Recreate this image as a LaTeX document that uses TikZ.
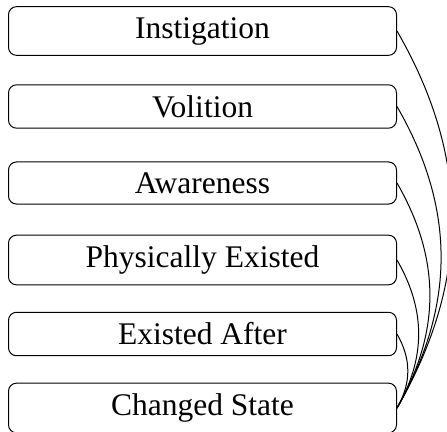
\documentclass[tikz,border=0pt]{standalone}
\usepackage{fontspec}
\setmainfont{Liberation Serif}
\begin{document}
\begin{tikzpicture}[x=1pt,y=1pt,
  box/.style={draw, line width=1pt, rounded corners=8pt, minimum width=388pt,
    inner xsep=4pt, inner ysep=10.5pt, font=\fontsize{31.5}{36}\selectfont},
  link/.style={line width=1pt, bend left=30}]
\useasboundingbox (0,0) rectangle (447,-431);
\node[box] (ins) at (202.5,-31) {Instigation};
\node[box] (vol) at (202.5,-106.5) {Volition};
\node[box] (awa) at (202.5,-183) {Awareness};
\node[box] (phy) at (202.5,-260) {Physically Existed};
\node[box] (exa) at (202.5,-334) {Existed After};
\node[box] (chg) at (202.5,-408) {Changed State};
\draw[link] (ins.east) to (chg.east);
\draw[link] (vol.east) to (chg.east);
\draw[link] (awa.east) to (chg.east);
\draw[link] (phy.east) to (chg.east);
\draw[link] (exa.east) to (chg.east);
\end{tikzpicture}
\end{document}
